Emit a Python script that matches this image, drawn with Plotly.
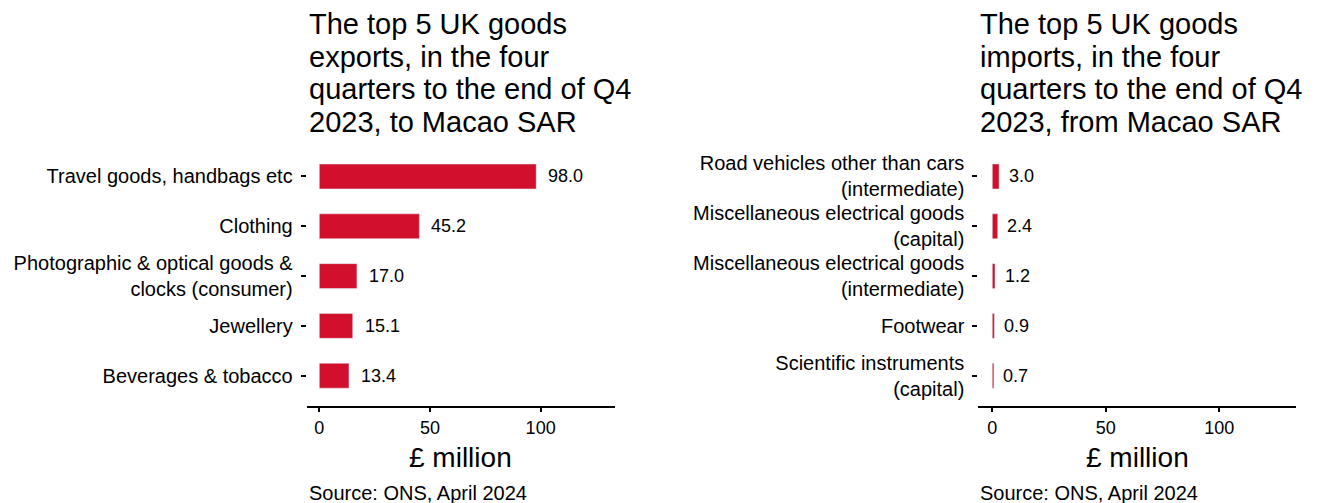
import plotly.graph_objects as go

# Data
export_categories = [
    "Travel goods, handbags etc",
    "Clothing",
    "Photographic & optical goods &<br>clocks (consumer)",
    "Jewellery",
    "Beverages & tobacco",
]
export_values = [98.0, 45.2, 17.0, 15.1, 13.4]

import_categories = [
    "Road vehicles other than cars<br>(intermediate)",
    "Miscellaneous electrical goods<br>(capital)",
    "Miscellaneous electrical goods<br>(intermediate)",
    "Footwear",
    "Scientific instruments<br>(capital)",
]
import_values = [3.0, 2.4, 1.2, 0.9, 0.7]

export_title = ["The top 5 UK goods", "exports, in the four",
                "quarters to the end of Q4", "2023, to Macao SAR"]
import_title = ["The top 5 UK goods", "imports, in the four",
                "quarters to the end of Q4", "2023, from Macao SAR"]
source_text = "Source: ONS, April 2024"
x_title = "£ million"
x_ticks = [0, 50, 100]

BAR = "#D0102C"
FONT = "Liberation Sans, Arial, sans-serif"
# page body has an 8px margin; figure sized to fill the rest of the window
OFF = 8
W, H = 1319 - OFF, 503 - OFF


def px_x(X):
    return (X - OFF) / W


def px_y(Y):
    return (H - (Y - OFF)) / H


fig = go.Figure()
fig.add_trace(go.Bar(x=export_values, y=export_categories, orientation="h",
                     marker_color=BAR, width=0.5, xaxis="x", yaxis="y",
                     hoverinfo="x+y"))
fig.add_trace(go.Bar(x=import_values, y=import_categories, orientation="h",
                     marker_color=BAR, width=0.5, xaxis="x2", yaxis="y2",
                     hoverinfo="x+y"))

ydom = [px_y(405.6), px_y(146.6)]
left_dom = [px_x(306.7), px_x(615)]
right_dom = [px_x(978.3), px_x(1296)]

xcommon = dict(tickvals=x_ticks, ticks="outside", ticklen=5, tickwidth=1.5,
               tickcolor="black", showline=True, linecolor="black", linewidth=1.5,
               showgrid=False, zeroline=False, ticklabelstandoff=0,
               tickfont=dict(size=18, color="black", family=FONT))
ycommon = dict(type="category", ticks="outside", ticklen=5, tickwidth=1.5,
               tickcolor="black", showline=False, showgrid=False, zeroline=False,
               ticklabelstandoff=4, domain=ydom,
               tickfont=dict(size=20, color="black", family=FONT))

annotations = []
for xref, yref, cats, vals, title in [("x", "y", export_categories, export_values, export_title),
                                      ("x2", "y2", import_categories, import_values, import_title)]:
    dref = xref + " domain"
    for c, v in zip(cats, vals):
        lab = f"{v:.1f}"
        annotations.append(dict(x=v, y=c, xref=xref, yref=yref, text=lab,
                                xanchor="left", yanchor="middle", showarrow=False,
                                xshift=2.5 * len(lab),
                                font=dict(size=18, color="black", family=FONT)))
    for i, line in enumerate(title):
        top_px = 6 + i * 32.7
        annotations.append(dict(x=0, y=px_y(top_px), xref=dref, yref="paper",
                                text=line, xanchor="left", yanchor="top",
                                showarrow=False,
                                font=dict(size=29, color="black", family=FONT)))
    annotations.append(dict(x=0.5, y=px_y(440.4), xref=dref, yref="paper",
                            text=x_title, xanchor="center", yanchor="top",
                            showarrow=False,
                            font=dict(size=28, color="black", family=FONT)))
    annotations.append(dict(x=0, y=px_y(479.5), xref=dref, yref="paper",
                            text=source_text, xanchor="left", yanchor="top",
                            showarrow=False,
                            font=dict(size=20, color="black", family=FONT)))

fig.update_layout(
    width=W, height=H,
    margin=dict(l=0, r=0, t=0, b=0),
    paper_bgcolor="white", plot_bgcolor="white",
    showlegend=False,
    font=dict(family=FONT, color="black"),
    xaxis=dict(domain=left_dom, range=[-5.7, 133.6], anchor="y", **xcommon),
    yaxis=dict(anchor="x", range=[4.6, -0.6], categoryorder="array",
               categoryarray=export_categories, **ycommon),
    xaxis2=dict(domain=right_dom, range=[-6.17, 133.8], anchor="y2", **xcommon),
    yaxis2=dict(anchor="x2", range=[4.6, -0.6], categoryorder="array",
                categoryarray=import_categories, **ycommon),
    annotations=annotations,
)

fig.write_html("out.html")
